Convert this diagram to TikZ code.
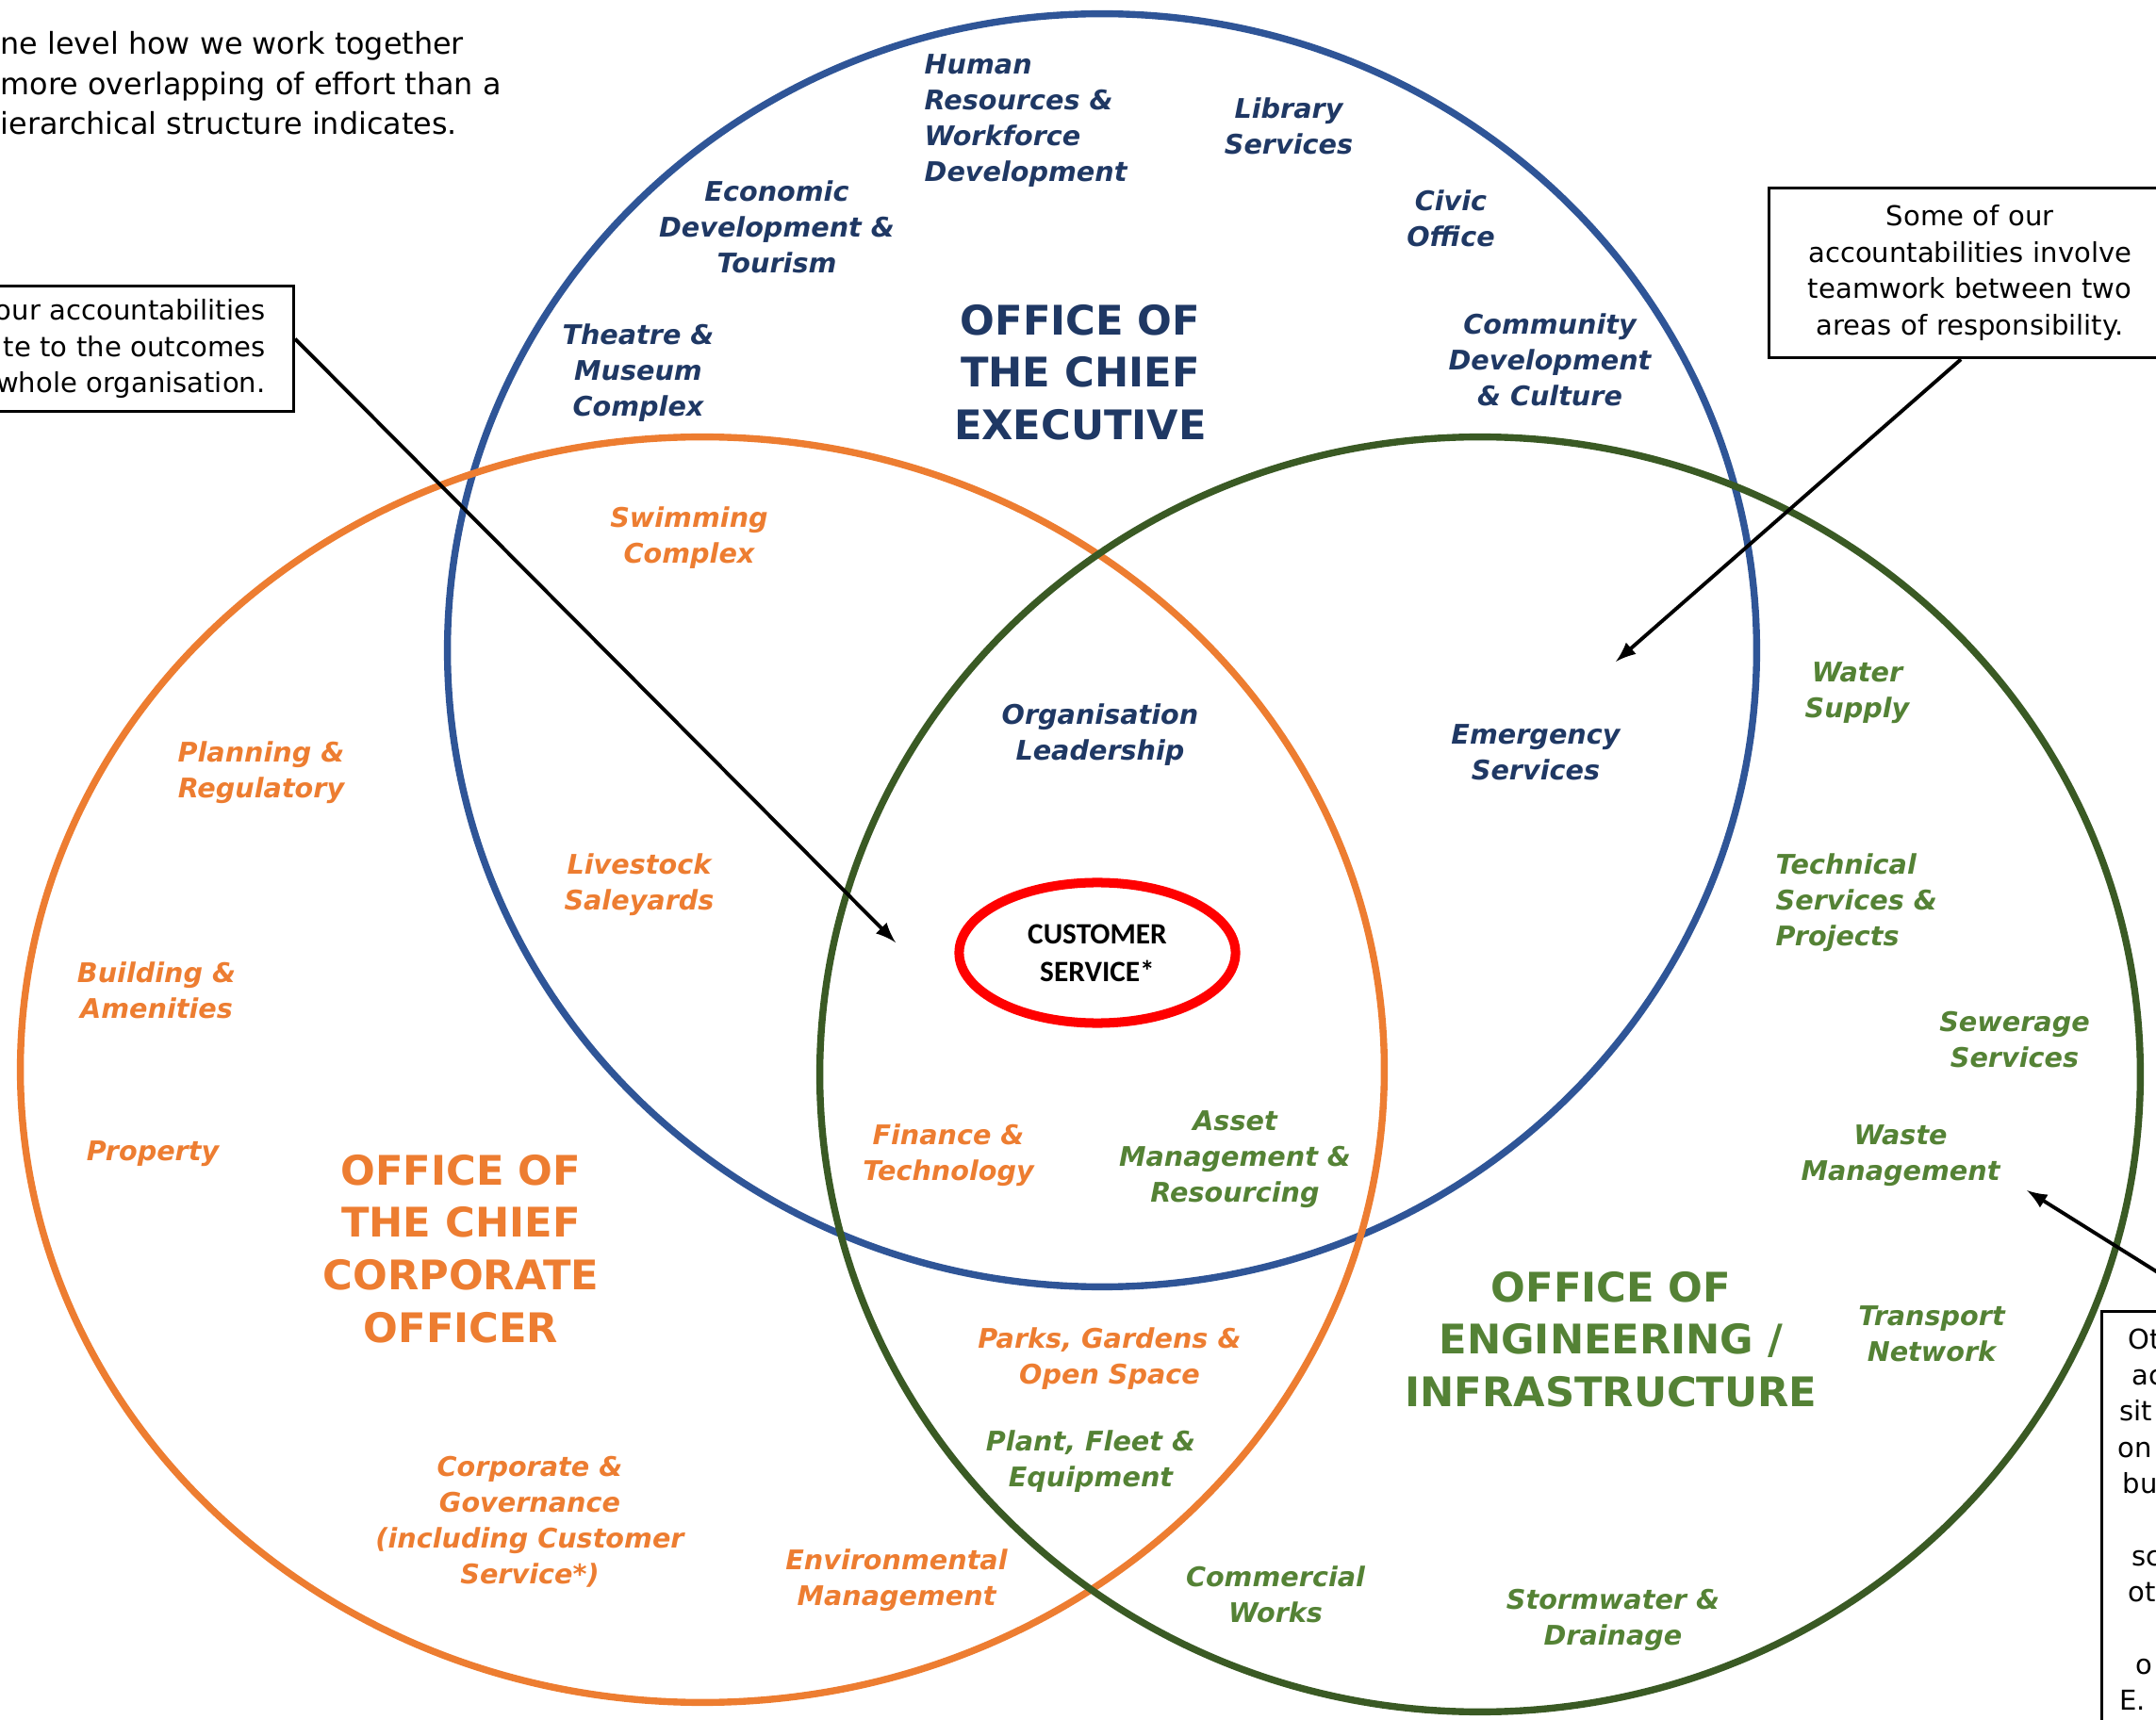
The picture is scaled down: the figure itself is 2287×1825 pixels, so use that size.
\documentclass[tikz,border=0pt]{standalone}
\usepackage{fontspec}
\setmainfont{DejaVu Sans}
\newfontfamily\calibfont{Carlito}
\usetikzlibrary{shapes, arrows, positioning}
\definecolor{ceoblue}{HTML}{2F5597}
\definecolor{ceonavy}{HTML}{1F3864}
\definecolor{ccoorange}{HTML}{ED7D31}
\definecolor{engdark}{HTML}{3A5A24}
\definecolor{enggreen}{HTML}{548235}
\newcommand{\lblfont}{\bfseries\itshape\fontsize{8.15}{10.8}\selectfont}
\newcommand{\ttlfont}{\bfseries\fontsize{12.3}{15.8}\selectfont}
\newcommand{\notefont}{\fontsize{8.26}{11}\selectfont}
\tikzstyle{ring} = [line width=2.1pt]
\tikzstyle{ceolabel} = [text=ceonavy, font=\lblfont, align=center, inner sep=0pt]
\tikzstyle{ccolabel} = [text=ccoorange, font=\lblfont, align=center, inner sep=0pt]
\tikzstyle{englabel} = [text=enggreen, font=\lblfont, align=center, inner sep=0pt]
\tikzstyle{officetitle} = [font=\ttlfont, align=center, inner sep=0pt]
\tikzstyle{notebox} = [draw=black, line width=0.9pt, fill=white, font=\notefont, rectangle]
\tikzstyle{custring} = [ellipse, draw=red, line width=2.85pt, minimum width=2.93cm, minimum height=1.49cm, inner sep=0pt, align=center, font=\calibfont\bfseries\fontsize{8.9}{11.4}\selectfont]
\tikzstyle{pointer} = [-latex, line width=1.1pt]

\begin{document}
\begin{tikzpicture}[x=0.01cm, y=-0.01cm]
	\useasboundingbox (0,0) rectangle (2287,1825);
	\draw[ring, ceoblue] (1169,690) ellipse [x radius=6.94cm, y radius=6.75cm];
	\draw[ring, ccoorange] (745,1135) ellipse [x radius=7.23cm, y radius=6.71cm];
	\draw[ring, engdark] (1570,1140) ellipse [x radius=7.00cm, y radius=6.76cm];

	\node[font=\fontsize{9.05}{12.1}\selectfont, align=left, inner sep=0pt, anchor=north west] (intro) at (0,33) {ne level how we work together\\more overlapping of effort than a\\ierarchical structure indicates.};

	\node[ceolabel, align=left, anchor=west] (hr) at (980,128) {Human\\Resources \&\\Workforce\\Development};
	\node[ceolabel] (library) at (1367,134) {Library\\Services};
	\node[ceolabel] (econ) at (824,241) {Economic\\Development \&\\Tourism};
	\node[ceolabel] (civic) at (1539,232) {Civic\\Office};
	\node[ceolabel] (theatre) at (677,396) {Theatre \&\\Museum\\Complex};
	\node[ceolabel] (community) at (1644,382) {Community\\Development\\\& Culture};
	\node[officetitle, text=ceonavy] (ceo) at (1146,395) {OFFICE OF\\THE CHIEF\\EXECUTIVE};
	\node[ceolabel] (leader) at (1167,780) {Organisation\\Leadership};
	\node[ceolabel] (emerg) at (1629,798) {Emergency\\Services};

	\node[ccolabel] (swim) at (731,571) {Swimming\\Complex};
	\node[ccolabel] (planning) at (277,820) {Planning \&\\Regulatory};
	\node[ccolabel] (livestock) at (678,939) {Livestock\\Saleyards};
	\node[ccolabel] (building) at (166,1051) {Building \&\\Amenities};
	\node[ccolabel] (property) at (162,1224) {Property};
	\node[officetitle, text=ccoorange] (cco) at (489,1325) {OFFICE OF\\THE CHIEF\\CORPORATE\\OFFICER};
	\node[ccolabel] (finance) at (1006,1226) {Finance \&\\Technology};
	\node[ccolabel] (parks) at (1177,1442) {Parks, Gardens \&\\Open Space};
	\node[ccolabel] (corporate) at (562,1615) {Corporate \&\\Governance\\(including Customer\\Service*)};
	\node[ccolabel] (environ) at (951,1677) {Environmental\\Management};

	\node[englabel] (water) at (1970,735) {Water\\Supply};
	\node[englabel, align=left, anchor=west] (technical) at (1883,958) {Technical\\Services \&\\Projects};
	\node[englabel] (sewer) at (2137,1103) {Sewerage\\Services};
	\node[englabel] (waste) at (2016,1226) {Waste\\Management};
	\node[englabel] (asset) at (1310,1230) {Asset\\Management \&\\Resourcing};
	\node[officetitle, text=enggreen] (eng) at (1709,1421) {OFFICE OF\\ENGINEERING /\\INFRASTRUCTURE};
	\node[englabel] (transport) at (2049,1415) {Transport\\Network};
	\node[englabel] (plant) at (1157,1551) {Plant, Fleet \&\\Equipment};
	\node[englabel] (commercial) at (1353,1692) {Commercial\\Works};
	\node[englabel] (storm) at (1711,1719) {Stormwater \&\\Drainage};

	\node[custring] (cust) at (1164,1011) {CUSTOMER\\SERVICE*};

	\node[notebox, align=right, text width=3.4cm, inner xsep=0.30cm, minimum height=1.33cm, anchor=north east] (lbox) at (313,302) {our accountabilities\\te to the outcomes\\whole organisation.};
	\node[notebox, align=center, text width=4.0cm, inner xsep=0.13cm, minimum height=1.8cm, anchor=north west] (rbox) at (1875,198) {Some of our\\accountabilities involve\\teamwork between two\\areas of responsibility.};
	\node[notebox, align=left, text width=2.12cm, inner xsep=0.17cm, inner ysep=0.18cm, anchor=north west, font=\fontsize{8.26}{10.9}\selectfont] (bbox) at (2228,1390) {\hspace*{0.11cm}Ot\\\hspace*{0.15cm}ac\\\hspace*{0.02cm}sit\\on\\\hspace*{0.05cm}bu\\[10.9pt]\hspace*{0.15cm}sc\\\hspace*{0.11cm}ot\\[10.9pt]\hspace*{0.19cm}o\\\hspace*{0.02cm}E.};

	\coordinate (ltip) at (950,1000);
	\coordinate (rtip) at (1714,702);
	\coordinate (btip) at (2150,1263);
	\draw[pointer] (lbox.3) -- (ltip);
	\draw[pointer] (rbox.264) -- (rtip);
	\draw[pointer] (bbox.north) -- (btip);
\end{tikzpicture}
\end{document}
